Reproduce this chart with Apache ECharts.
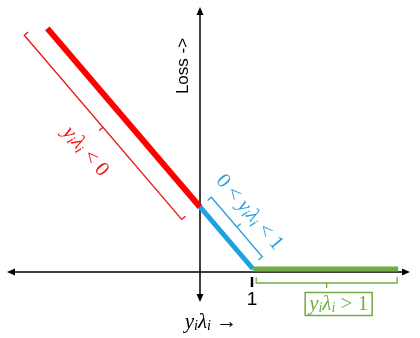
<!DOCTYPE html>
<html><head><meta charset="utf-8">
<script src="https://cdn.jsdelivr.net/npm/echarts@6/dist/echarts.min.js"></script>
<style>html,body{margin:0;padding:0;background:#fff}#c{width:420px;height:338px}</style>
</head><body><div id="c"></div>
<script>
// Hinge loss segments: x = y_i*lambda_i, loss value
const redX = [-2.88, 0];
const redLoss = [3.88, 1];
const blueX = [0, 1];
const blueLoss = [1, 0];
const greenX = [1, 3.74];
const greenLoss = [0, 0];
// x-axis tick
const tickValues = [1];
const tickLabels = ['1'];
// bracket extents on the curve: [xStart, lossStart, xEnd, lossEnd]
const redBracket = [-3.0, 4.0, -0.03, 1.03];
const blueBracket = [0, 1, 0.96, 0.04];
const greenBracket = [1.06, 0, 3.72, 0];
const bracketLabels = [
  '{m|y}{s|i}{m|λ}{s|i}{u| < 0}',
  '{u|0 < }{m|y}{s|i}{m|λ}{s|i}{u| < 1}',
  '{m|y}{s|i}{m|λ}{s|i}{u| > 1}'
];
const axisNameY = 'Loss ->';
const axisNameX = '{m|y}{s|i}{m|λ}{s|i}{u| →}';

const RED = '#FF0000', BLUE = '#1DA1E2', GREEN = '#70AD47';
function richFor(color) {
  const fam = 'Liberation Serif';
  return {
    m: {fontFamily: fam, fontSize: 21, fontStyle: 'italic', fill: color},
    s: {fontFamily: fam, fontSize: 14, fontStyle: 'italic', fill: color, padding: [9, 0, 0, 0]},
    u: {fontFamily: fam, fontSize: 21, fill: color}
  };
}
const bracketStyle = [
  {color: '#EE1111', side: 1, d: 22, c: 5, t: 5, lab: 51, shift: 7, box: false},
  {color: '#2B9FDC', side: -1, d: 15, c: 5, t: 5, lab: 34, shift: -3, box: false},
  {color: GREEN, side: 1, d: 14, c: 6, t: 5, lab: 35, shift: 12, box: true}
];

function seg(xs, ys) { return xs.map((x, i) => [x, ys[i]]); }

function renderBracket(params, api) {
  const i = params.dataIndex, s = bracketStyle[i];
  const A = api.coord([api.value(0), api.value(1)]);
  const B = api.coord([api.value(2), api.value(3)]);
  const dx = B[0] - A[0], dy = B[1] - A[1], L = Math.hypot(dx, dy);
  const ux = dx / L, uy = dy / L;
  const nx = -uy * s.side, ny = ux * s.side;
  const P = (p, k) => [p[0] + nx * k, p[1] + ny * k];
  const a1 = P(A, s.d - s.c), a2 = P(A, s.d), b2 = P(B, s.d), b1 = P(B, s.d - s.c);
  const M = [(a2[0] + b2[0]) / 2, (a2[1] + b2[1]) / 2];
  const T = P(M, s.t);
  const cx = (A[0] + B[0]) / 2 + ux * s.shift + nx * s.lab;
  const cy = (A[1] + B[1]) / 2 + uy * s.shift + ny * s.lab;
  const textStyle = {
    text: bracketLabels[i], rich: richFor(s.color), fill: s.color,
    align: 'center', verticalAlign: 'middle'
  };
  if (s.box) { textStyle.borderColor = s.color; textStyle.borderWidth = 1.5; textStyle.padding = [0, 4, 0, 4]; }
  return {type: 'group', children: [
    {type: 'polyline', shape: {points: [a1, a2, b2, b1]}, style: {stroke: s.color, lineWidth: 1.3, fill: null}},
    {type: 'line', shape: {x1: M[0], y1: M[1], x2: T[0], y2: T[1]}, style: {stroke: s.color, lineWidth: 1.3}},
    {type: 'text', x: cx, y: cy, rotation: -Math.atan2(uy, ux), style: textStyle}
  ]};
}
function renderTick(params, api) {
  const p = api.coord([api.value(0), api.value(1)]);
  return {type: 'group', children: [
    {type: 'line', shape: {x1: p[0] - 1, y1: p[1] + 8, x2: p[0] - 1, y2: p[1] + 18}, style: {stroke: '#000', lineWidth: 2.5}},
    {type: 'text', x: p[0] - 1, y: p[1] + 31, style: {text: tickLabels[params.dataIndex], fontFamily: 'Liberation Sans',
      fontSize: 19, fill: '#000', align: 'center', verticalAlign: 'middle'}}
  ]};
}

const chart = echarts.init(document.getElementById('c'));
chart.setOption({
  animation: false,
  backgroundColor: '#fff',
  grid: {left: 11, right: 14, top: 11, bottom: 40, containLabel: false},
  xAxis: {
    type: 'value', min: -3.566, max: 3.887,
    splitLine: {show: false},
    axisLine: {show: true, onZero: true, onZeroAxisIndex: 1, symbol: ['triangle', 'triangle'], symbolSize: [7, 8],
      lineStyle: {color: '#000', width: 1.5}},
    axisTick: {show: false},
    axisLabel: {show: false}
  },
  yAxis: [{
    type: 'value', min: -0.4677, max: 4.161,
    splitLine: {show: false},
    axisLine: {show: true, onZero: true, symbol: ['triangle', 'triangle'], symbolSize: [7, 8],
      lineStyle: {color: '#000', width: 1.5}},
    axisTick: {show: false}, axisLabel: {show: false}
  }, {
    type: 'value', min: -0.419, max: 4.21, show: false,
    splitLine: {show: false}
  }],
  graphic: [
    {type: 'text', x: 183, y: 66, rotation: Math.PI / 2,
      style: {text: axisNameY, fontFamily: 'Liberation Sans', fontSize: 17, fill: '#000', align: 'center', verticalAlign: 'middle'}},
    {type: 'text', x: 211, y: 322,
      style: {text: axisNameX, rich: richFor('#000'), fill: '#000', align: 'center', verticalAlign: 'middle'}}
  ],
  series: [
    {type: 'line', data: seg(redX, redLoss), showSymbol: false, symbol: 'none', lineStyle: {color: RED, width: 6}, z: 3},
    {type: 'line', data: seg(blueX, blueLoss), showSymbol: false, symbol: 'none', lineStyle: {color: BLUE, width: 5}, z: 4},
    {type: 'line', data: seg(greenX, greenLoss), showSymbol: false, symbol: 'none', lineStyle: {color: GREEN, width: 5}, z: 4},
    {type: 'custom', renderItem: renderBracket, encode: {x: [0, 2], y: [1, 3]},
      data: [redBracket, blueBracket, greenBracket], z: 5, silent: true},
    {type: 'custom', renderItem: renderTick, data: tickValues.map(v => [v, 0]), z: 5, silent: true}
  ]
});
</script></body></html>
